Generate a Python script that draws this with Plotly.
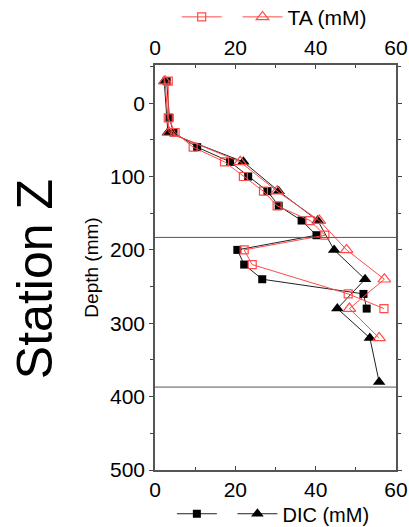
import plotly.graph_objects as go

# ---- data ----
depth_sq_ta = [-30, 20, 40, 60, 80, 100, 120, 140, 160, 180, 200, 220, 260, 280]
ta_sq = [3.3, 3.3, 5.0, 9.5, 17.3, 22.0, 27.0, 30.4, 38.6, 42.3, 22.2, 24.2, 48.1, 57.0]

depth_tri_ta = [-30, 40, 80, 120, 160, 200, 240, 280, 320]
ta_tri = [2.5, 3.5, 21.2, 30.4, 40.9, 47.7, 57.1, 48.4, 55.8]

depth_sq_dic = [-30, 20, 40, 60, 80, 100, 120, 140, 160, 180, 200, 220, 240, 260, 280]
dic_sq = [2.9, 3.6, 4.6, 10.5, 18.7, 23.2, 28.0, 30.8, 36.5, 40.2, 20.5, 22.2, 26.7, 51.9, 52.7]

depth_tri_dic = [-30, 40, 80, 120, 160, 200, 240, 280, 320, 380]
dic_tri = [2.3, 3.2, 22.0, 30.8, 40.5, 44.6, 52.3, 45.4, 53.5, 55.8]

boundary_depths = [183, 387]

x_ticks = [0, 20, 40, 60]
y_ticks = [0, 100, 200, 300, 400, 500]

RED = "#ff4a4a"
DARK = "#222222"
FONT = "Liberation Sans, Arial, sans-serif"

fig = go.Figure()

fig.add_trace(go.Scatter(x=dic_sq, y=depth_sq_dic, xaxis="x", yaxis="y", mode="lines+markers",
                         name=" ", legend="legend2",
                         line=dict(color=DARK, width=1),
                         marker=dict(symbol="square", size=8, color="black")))
fig.add_trace(go.Scatter(x=dic_tri, y=depth_tri_dic, xaxis="x", yaxis="y", mode="lines+markers",
                         name="DIC (mM)", legend="legend2",
                         line=dict(color=DARK, width=1),
                         marker=dict(symbol="triangle-up", size=11, color="black")))
fig.add_trace(go.Scatter(x=ta_sq, y=depth_sq_ta, xaxis="x2", yaxis="y", mode="lines+markers",
                         name=" ", legend="legend",
                         line=dict(color=RED, width=1),
                         marker=dict(symbol="square-open", size=8, color=RED, line=dict(width=1.2))))
fig.add_trace(go.Scatter(x=ta_tri, y=depth_tri_ta, xaxis="x2", yaxis="y", mode="lines+markers",
                         name="TA (mM)", legend="legend",
                         line=dict(color=RED, width=1),
                         marker=dict(symbol="triangle-up-open", size=11, color=RED, line=dict(width=1.2))))

for d in boundary_depths:
    fig.add_shape(type="line", xref="paper", x0=0, x1=1, yref="y", y0=d, y1=d,
                  line=dict(color="#555555", width=1))

axis_common = dict(range=[0, 60], tickvals=x_ticks, ticks="inside", ticklen=4,
                   tickcolor="#444", showline=True, linecolor="#555", linewidth=1.5,
                   showgrid=False, zeroline=False, automargin=False,
                   tickfont=dict(size=21, color="black", family=FONT),
                   minor=dict(dtick=10, ticks="inside", ticklen=3, tickcolor="#444"))

fig.update_layout(
    width=409, height=527,
    margin=dict(l=155, r=13, t=65, b=57, autoexpand=False),
    paper_bgcolor="white", plot_bgcolor="white",
    font=dict(family=FONT, color="black"),
    xaxis=dict(**axis_common, side="bottom"),
    xaxis2=dict(**axis_common, side="top", overlaying="x"),
    yaxis=dict(range=[500, -52], tickvals=y_ticks, ticks="outside", ticklen=4,
               tickcolor="#444", showline=True, linecolor="#555", linewidth=1.5,
               mirror="ticks", showgrid=False, zeroline=False, automargin=False,
               tickfont=dict(size=21, color="black", family=FONT),
               minor=dict(dtick=50, ticks="outside", ticklen=3, tickcolor="#444"),
               title=dict(text="Depth (mm)", font=dict(size=19, family=FONT), standoff=6)),
    legend=dict(orientation="h", x=0.09, xanchor="left", y=1.118, yanchor="middle",
                font=dict(size=21, family=FONT), itemwidth=40, bgcolor="rgba(0,0,0,0)"),
    legend2=dict(orientation="h", x=0.07, xanchor="left", y=-0.108, yanchor="middle",
                 font=dict(size=20, family=FONT), itemwidth=40, bgcolor="rgba(0,0,0,0)"),
    showlegend=True,
)

fig.add_annotation(text="Station Z", xref="paper", yref="paper", x=-0.5, y=0.47,
                   xanchor="center", yanchor="middle", textangle=-90, showarrow=False,
                   font=dict(size=50, family=FONT, color="black"))

fig.write_html("out.html")
